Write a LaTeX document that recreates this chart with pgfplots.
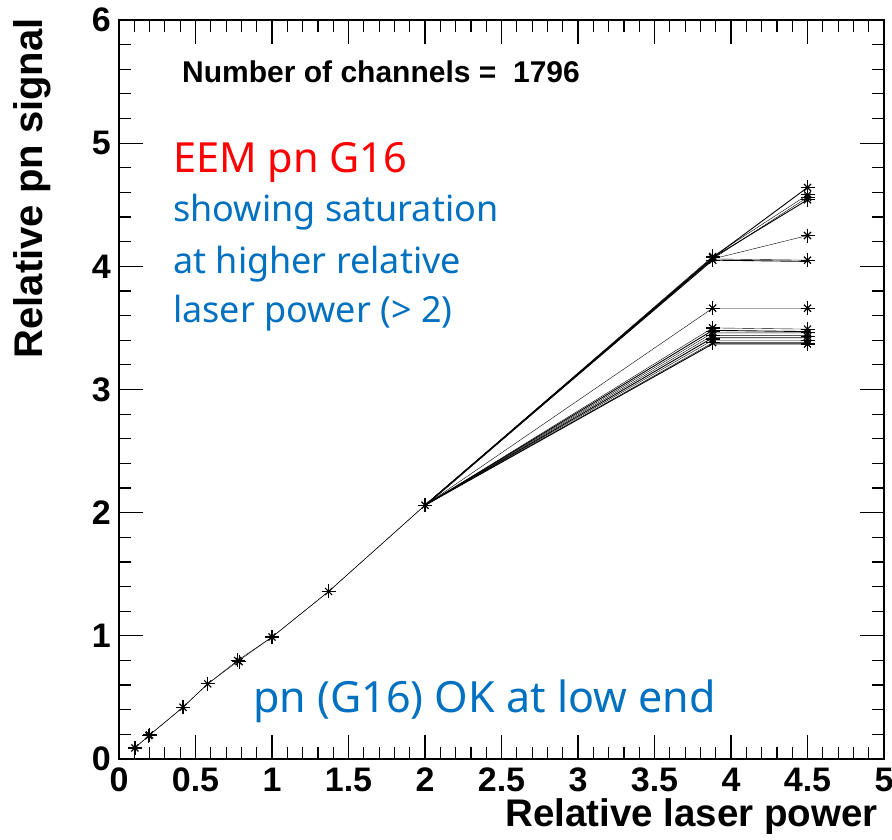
\documentclass[border=0pt]{standalone}
\usepackage{fontspec}
\setmainfont{Liberation Sans}
\newfontfamily\noto{Noto Sans}
\usepackage{pgfplots}
\pgfplotsset{compat=1.18}
\definecolor{annblue}{HTML}{0070C0}
\definecolor{annred}{HTML}{FF0000}
\pgfplotstableread{
x y
0.104 0.09
0.195 0.19
0.200 0.195
0.418 0.42
0.58 0.61
0.775 0.80
0.785 0.79
1.0 0.99
1.37 1.36
2.0 2.06
3.88 4.05
3.88 4.07
3.88 4.08
4.5 4.64
4.5 4.58
4.5 4.56
4.5 4.54
4.5 4.25
4.5 4.05
3.88 3.66
4.5 3.66
3.88 3.50
3.88 3.47
3.88 3.44
3.88 3.41
3.88 3.38
4.5 3.49
4.5 3.46
4.5 3.43
4.5 3.40
4.5 3.37
}\allpoints
\begin{document}
\begin{tikzpicture}
\useasboundingbox (0,0) rectangle (892pt,840pt);
\begin{axis}[at={(119pt,81pt)}, anchor=south west, scale only axis,
  width=765pt, height=739pt,
  xmin=0, xmax=5, ymin=0, ymax=6,
  xtick={0,0.5,1,1.5,2,2.5,3,3.5,4,4.5,5},
  ytick={0,1,2,3,4,5,6},
  minor x tick num=4, minor y tick num=4,
  major tick length=24pt, minor tick length=12pt,
  tick style={line width=1.2pt, black},
  axis line style={line width=1.8pt},
  /pgf/number format/assume math mode=true,
  xticklabel style={font=\fontsize{34}{34}\selectfont\bfseries, inner sep=0pt, yshift=-9pt},
  yticklabel style={font=\fontsize{34}{34}\selectfont\bfseries, inner sep=0pt, xshift=-8pt},
  xlabel={Relative laser power},
  ylabel={Relative pn signal},
  xlabel style={font=\fontsize{38.5}{38.5}\selectfont\bfseries, at={(rel axis cs:1,0)}, anchor=base east, inner sep=0pt, yshift=-68pt, xshift=-6pt},
  ylabel style={font=\fontsize{40}{40}\selectfont\bfseries, at={(rel axis cs:0,1)}, anchor=base east, inner sep=0pt, yshift=76pt, xshift=2pt},
  cycle list={{black, solid, line width=0.9pt}},
]
% low end (common part)
\addplot coordinates {(0.104,0.09) (0.195,0.19) (0.418,0.42) (0.58,0.61) (0.78,0.795) (1.0,0.99) (1.37,1.36) (2.0,2.06)};
\addplot coordinates {(0.104,0.09) (0.200,0.195) (0.418,0.42) (0.58,0.61) (0.775,0.80) (1.0,0.99) (1.37,1.36) (2.0,2.06)};
% upper group
\addplot coordinates {(2.0,2.06) (3.88,4.07) (4.5,4.64)};
\addplot coordinates {(2.0,2.06) (3.88,4.08) (4.5,4.58)};
\addplot coordinates {(2.0,2.06) (3.88,4.06) (4.5,4.56)};
\addplot coordinates {(2.0,2.06) (3.88,4.07) (4.5,4.54)};
\addplot coordinates {(2.0,2.05) (3.88,4.06) (4.5,4.25)};
\addplot coordinates {(2.0,2.06) (3.88,4.06) (4.5,4.05)};
\addplot coordinates {(2.0,2.06) (3.88,4.05) (4.5,4.04)};
% middle
\addplot coordinates {(2.0,2.06) (3.88,3.66) (4.5,3.66)};
% lower bundle
\addplot coordinates {(2.0,2.06) (3.88,3.50) (4.5,3.49)};
\addplot coordinates {(2.0,2.06) (3.88,3.48) (4.5,3.47)};
\addplot coordinates {(2.0,2.06) (3.88,3.46) (4.5,3.46)};
\addplot coordinates {(2.0,2.06) (3.88,3.44) (4.5,3.44)};
\addplot coordinates {(2.0,2.06) (3.88,3.42) (4.5,3.42)};
\addplot coordinates {(2.0,2.06) (3.88,3.40) (4.5,3.40)};
\addplot coordinates {(2.0,2.06) (3.88,3.38) (4.5,3.38)};
\addplot coordinates {(2.0,2.06) (3.88,3.37) (4.5,3.37)};
% asterisk markers (ROOT style: + and x superposed)
\addplot[only marks, mark=+, mark size=7pt, mark options={black, line width=1.2pt}] table[x=x, y=y] {\allpoints};
\addplot[only marks, mark=x, mark size=5pt, mark options={black, line width=1.2pt}] table[x=x, y=y] {\allpoints};
\end{axis}
\node[anchor=base west, inner sep=0pt, font=\fontsize{30}{30}\selectfont\bfseries] at (182pt,757pt) {Number of channels =\ \ 1796};
\node[anchor=base west, inner sep=0pt, text=annred, font=\noto\fontsize{41.5}{41.5}\selectfont] at (173pt,667pt) {EEM pn G16};
\node[anchor=base west, inner sep=0pt, text=annblue, font=\noto\fontsize{36}{36}\selectfont] at (173pt,618pt) {showing saturation};
\node[anchor=base west, inner sep=0pt, text=annblue, font=\noto\fontsize{36}{36}\selectfont] at (173pt,566pt) {at higher relative};
\node[anchor=base west, inner sep=0pt, text=annblue, font=\noto\fontsize{36}{36}\selectfont] at (173pt,517pt) {laser power (> 2)};
\node[anchor=base west, inner sep=0pt, text=annblue, font=\noto\fontsize{43}{43}\selectfont] at (253pt,127pt) {pn (G16) OK at low end};
\end{tikzpicture}
\end{document}
